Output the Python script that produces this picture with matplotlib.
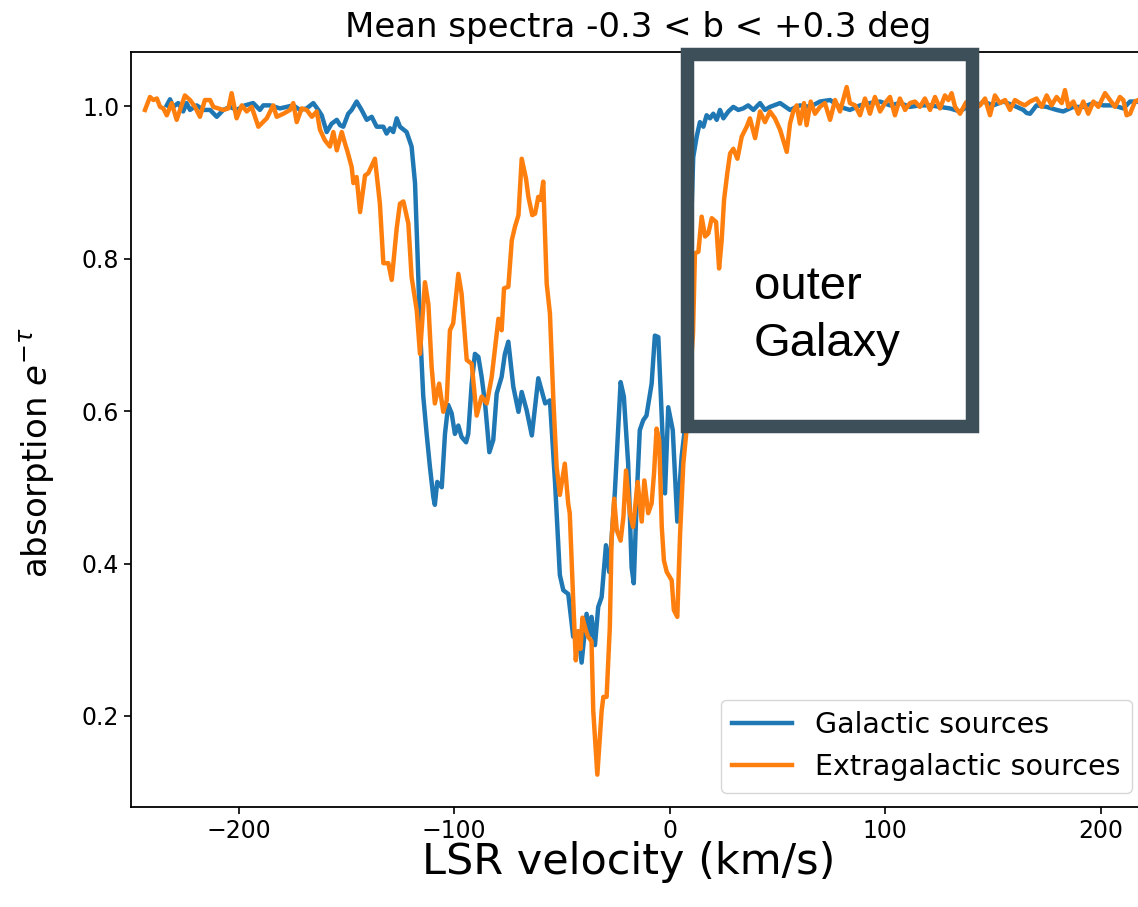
import matplotlib
matplotlib.use("Agg")
import matplotlib.pyplot as plt
from matplotlib.patches import Rectangle

# Galactic sources (blue)
gal_vel = [-233.4, -231.9, -230.4, -228.1, -225.8, -224.2, -222.6, -219.5, -216.5, -213.3,
           -210.2, -207.2, -204.1, -201.0, -197.1, -193.3, -190.2, -188.6, -185.5, -180.9,
           -177.8, -174.7, -171.6, -168.5, -165.4, -163.1, -161.5, -159.2, -156.9, -154.5,
           -153.0, -151.5, -149.2, -147.6, -145.3, -143.0, -140.6, -138.3, -136.0, -132.9,
           -131.4, -129.8, -128.3, -126.7, -125.2, -122.1, -119.8, -118.2, -117.1, -115.9,
           -114.4, -112.8, -111.3, -109.7, -109.0, -107.9, -105.8, -104.3, -102.8, -101.2,
           -99.7, -98.1, -96.6, -94.5, -93.5, -91.9, -90.4, -88.8, -87.3, -85.7,
           -83.7, -81.9, -80.3, -78.0, -76.5, -74.9, -72.6, -70.2, -68.7, -66.4,
           -64.0, -61.0, -57.8, -55.6, -53.2, -51.0, -49.4, -47.1, -44.8, -42.5,
           -40.9, -38.6, -37.1, -36.3, -34.7, -33.2, -31.6, -29.6, -28.1, -25.5,
           -22.8, -21.3, -19.3, -17.7, -16.7, -15.1, -13.9, -12.3, -10.8, -8.4,
           -6.9, -5.3, -2.2, -0.7, 1.4, 3.5, 5.5, 7.1, 9.0, 10.9,
           12.5, 14.0, 15.6, 17.1, 18.7, 20.2, 21.8, 23.3, 24.9, 27.2,
           29.5, 31.8, 34.1, 36.4, 38.8, 41.9, 44.2, 46.5, 51.2, 55.8,
           60.4, 65.0, 69.7, 74.4, 79.0, 83.6, 88.3, 92.9, 97.6, 102.2,
           106.8, 111.5, 116.1, 120.8, 125.4, 130.0, 134.7, 139.0, 142.0, 145.5,
           150.1, 154.8, 159.4, 164.1, 165.6, 167.2, 170.2, 174.9, 179.5, 182.6,
           187.3, 191.9, 196.6, 201.2, 205.9, 210.5, 213.6, 217.3, 221.0]
gal_abs = [1.001, 1.009, 0.999, 1.004, 0.993, 1.004, 0.995, 1.001, 0.995, 0.995,
           0.986, 0.995, 0.999, 0.995, 1.001, 1.004, 0.995, 1.001, 1.001, 0.997,
           0.999, 1.001, 0.995, 0.997, 1.004, 0.995, 0.988, 0.966, 0.977, 0.982,
           0.975, 0.973, 0.990, 0.995, 1.006, 0.995, 0.982, 0.986, 0.973, 0.973,
           0.964, 0.971, 0.966, 0.984, 0.973, 0.966, 0.947, 0.899, 0.811, 0.710,
           0.620, 0.570, 0.527, 0.487, 0.477, 0.507, 0.500, 0.570, 0.608, 0.597,
           0.570, 0.581, 0.566, 0.559, 0.570, 0.636, 0.675, 0.671, 0.645, 0.610,
           0.546, 0.562, 0.623, 0.645, 0.675, 0.691, 0.632, 0.599, 0.625, 0.601,
           0.568, 0.643, 0.610, 0.614, 0.505, 0.385, 0.365, 0.360, 0.304, 0.311,
           0.270, 0.334, 0.305, 0.330, 0.293, 0.343, 0.356, 0.424, 0.389, 0.492,
           0.638, 0.619, 0.531, 0.395, 0.374, 0.501, 0.575, 0.588, 0.594, 0.636,
           0.699, 0.697, 0.492, 0.605, 0.575, 0.455, 0.540, 0.579, 0.760, 0.933,
           0.960, 0.979, 0.973, 0.988, 0.984, 0.990, 0.982, 0.995, 0.984, 0.993,
           0.999, 0.995, 0.997, 1.001, 0.995, 1.004, 0.995, 0.999, 1.004, 0.995,
           1.001, 0.999, 1.006, 1.008, 0.999, 0.995, 1.001, 1.004, 1.006, 1.001,
           1.004, 0.999, 1.001, 1.001, 0.999, 0.997, 0.993, 1.001, 0.998, 1.006,
           1.001, 1.006, 1.001, 0.995, 0.991, 0.990, 1.001, 0.999, 0.995, 0.993,
           0.999, 0.999, 1.004, 1.001, 1.001, 0.997, 1.006, 1.006, 1.001]

# Extragalactic sources (orange)
ext_vel = [-243.5, -241.2, -239.6, -238.0, -236.5, -235.0, -233.4, -231.1, -228.8, -225.0,
           -222.6, -220.3, -218.0, -215.7, -213.3, -211.8, -209.5, -207.2, -204.8, -203.3,
           -201.0, -198.6, -196.3, -194.0, -190.9, -187.0, -184.0, -182.4, -179.3, -176.2,
           -174.7, -173.1, -170.8, -168.5, -166.1, -163.8, -162.3, -160.0, -157.7, -156.1,
           -154.5, -152.2, -150.7, -149.5, -147.6, -146.8, -145.3, -143.7, -141.4, -139.9,
           -136.8, -134.5, -132.9, -130.6, -129.0, -126.7, -125.2, -123.6, -121.3, -119.8,
           -117.4, -115.9, -113.6, -112.0, -110.5, -109.0, -107.0, -105.1, -103.5, -102.0,
           -100.5, -98.1, -96.6, -94.2, -91.9, -89.6, -87.3, -84.9, -82.6, -79.5,
           -78.0, -76.9, -74.9, -73.3, -71.8, -70.2, -68.7, -66.7, -65.6, -63.8,
           -62.5, -61.0, -59.9, -58.7, -57.1, -55.6, -54.0, -52.5, -51.0, -48.7,
           -47.1, -46.4, -44.8, -43.6, -42.5, -41.4, -40.5, -38.9, -37.9, -36.3,
           -35.5, -33.6, -31.6, -30.8, -29.3, -27.8, -27.0, -25.8, -24.6, -22.8,
           -21.5, -20.3, -18.5, -17.0, -14.9, -13.0, -11.8, -10.0, -8.4, -7.3,
           -6.1, -4.9, -3.7, -2.7, -1.4, 0.9, 1.9, 3.5, 4.8, 6.3,
           7.8, 10.8, 11.7, 13.3, 14.8, 16.4, 17.9, 19.5, 21.5, 22.9,
           24.1, 25.2, 26.7, 28.0, 29.5, 31.4, 33.4, 35.7, 37.2, 39.6,
           41.9, 44.2, 46.5, 48.8, 51.2, 52.7, 54.3, 55.8, 57.3, 58.9,
           60.4, 62.3, 63.5, 65.4, 67.4, 69.7, 72.0, 74.4, 76.7, 79.0,
           82.1, 83.6, 86.0, 88.3, 90.6, 92.9, 95.2, 97.6, 99.9, 102.2,
           104.5, 106.8, 109.2, 111.5, 113.8, 116.1, 118.4, 120.8, 123.1, 125.4,
           127.7, 129.3, 130.8, 132.4, 134.7, 137.5, 140.5, 144.0, 146.3, 148.6,
           150.9, 153.2, 155.6, 157.9, 160.2, 162.5, 164.8, 167.2, 170.2, 172.6,
           174.9, 177.2, 179.5, 181.9, 183.4, 185.0, 187.3, 189.6, 191.9, 194.2,
           196.6, 198.9, 202.0, 204.3, 206.6, 208.9, 210.5, 212.0, 213.6, 215.9,
           217.3, 221.0]
ext_abs = [0.995, 1.012, 1.008, 1.010, 0.999, 0.997, 0.988, 1.004, 0.982, 1.014,
           1.008, 0.999, 0.986, 1.008, 1.008, 0.999, 0.997, 0.995, 0.997, 1.017,
           0.984, 1.001, 0.993, 0.999, 0.973, 0.984, 1.001, 0.986, 0.990, 0.995,
           1.004, 0.979, 0.997, 0.995, 0.986, 0.993, 0.969, 0.955, 0.947, 0.966,
           0.942, 0.966, 0.951, 0.940, 0.920, 0.899, 0.907, 0.861, 0.909, 0.912,
           0.931, 0.872, 0.794, 0.794, 0.772, 0.840, 0.872, 0.875, 0.846, 0.776,
           0.732, 0.675, 0.769, 0.740, 0.658, 0.610, 0.636, 0.599, 0.614, 0.706,
           0.715, 0.780, 0.754, 0.667, 0.662, 0.594, 0.619, 0.610, 0.645, 0.721,
           0.706, 0.761, 0.763, 0.824, 0.842, 0.857, 0.931, 0.905, 0.881, 0.857,
           0.859, 0.881, 0.877, 0.901, 0.767, 0.728, 0.614, 0.527, 0.490, 0.531,
           0.478, 0.466, 0.352, 0.273, 0.311, 0.288, 0.329, 0.312, 0.304, 0.298,
           0.207, 0.123, 0.207, 0.225, 0.225, 0.317, 0.430, 0.485, 0.444, 0.430,
           0.461, 0.522, 0.466, 0.448, 0.507, 0.455, 0.509, 0.466, 0.479, 0.518,
           0.577, 0.562, 0.448, 0.404, 0.389, 0.378, 0.339, 0.330, 0.439, 0.531,
           0.575, 0.702, 0.807, 0.809, 0.855, 0.829, 0.833, 0.853, 0.848, 0.787,
           0.824, 0.877, 0.912, 0.938, 0.944, 0.931, 0.960, 0.973, 0.984, 0.958,
           0.993, 0.979, 0.993, 0.984, 0.969, 0.955, 0.940, 0.977, 0.993, 1.001,
           0.977, 1.004, 0.975, 1.006, 0.990, 0.999, 1.004, 0.982, 1.008, 0.993,
           1.025, 1.004, 1.001, 0.988, 1.010, 0.990, 1.012, 0.993, 1.004, 1.012,
           0.988, 1.010, 0.995, 1.004, 1.006, 0.999, 1.010, 0.995, 1.012, 0.997,
           1.014, 1.008, 1.017, 0.999, 0.990, 1.005, 0.995, 1.001, 1.010, 0.988,
           1.014, 1.004, 1.008, 0.995, 1.008, 1.004, 1.001, 1.006, 1.010, 0.999,
           1.014, 1.001, 1.012, 1.004, 1.021, 0.999, 1.006, 0.990, 1.006, 0.990,
           1.006, 0.999, 1.017, 1.008, 0.999, 1.012, 1.008, 0.988, 0.990, 1.006,
           1.008, 1.000]

W, H = 1138, 907
fig = plt.figure(figsize=(W / 100, H / 100), dpi=100)
# axes runs a little past the right edge of the canvas, as in the reference
ax = fig.add_axes([131 / W, 1 - 807 / H, 1015 / W, 755 / H])

ax.plot(gal_vel, gal_abs, color='#1f77b4', lw=3.2, label='Galactic sources')
ax.plot(ext_vel, ext_abs, color='#ff7f0e', lw=3.2, label='Extragalactic sources')

ax.set_xlim(-250, 221)
ax.set_ylim(0.0806, 1.071)
ax.set_xticks([-200, -100, 0, 100, 200])
ax.set_yticks([0.2, 0.4, 0.6, 0.8, 1.0])
ax.tick_params(labelsize=17, length=5, width=1.2)
for sp in ax.spines.values():
    sp.set_linewidth(1.3)

ax.set_title('Mean spectra -0.3 < b < +0.3 deg', fontsize=24.5, pad=11)
ax.set_xlabel('LSR velocity (km/s)', fontsize=31, labelpad=-1, x=0.49)
ax.set_ylabel(r'absorption $e^{-\tau}$', fontsize=24.5, labelpad=18, y=0.47)
ax.legend(loc='lower right', fontsize=20.5, handlelength=2.1)

# "outer Galaxy" box drawn on top of everything
box = Rectangle((686.5 / W, 1 - 425.5 / H), 285 / W, 371.5 / H,
                transform=fig.transFigure, fill=False, lw=9.7,
                ec='#3d4f58', joinstyle='miter', zorder=10)
fig.add_artist(box)
fig.text(754 / W, 1 - 299 / H, 'outer', fontsize=34, family='Liberation Sans',
         va='baseline', ha='left')
fig.text(754 / W, 1 - 356 / H, 'Galaxy', fontsize=34, family='Liberation Sans',
         va='baseline', ha='left')

fig.savefig('out.png', dpi=100)
